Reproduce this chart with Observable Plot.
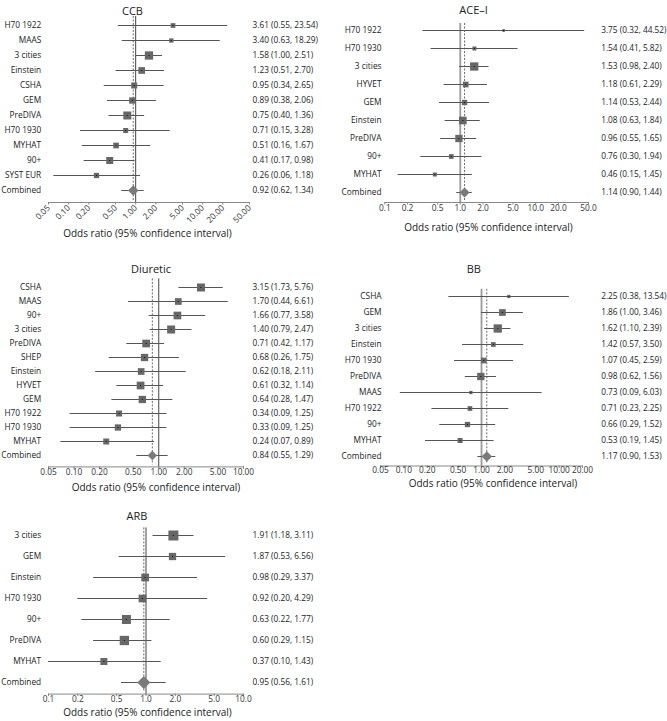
<!DOCTYPE html>
<html><head><meta charset="utf-8">
<script src="https://cdn.jsdelivr.net/npm/d3@7"></script>
<script src="https://cdn.jsdelivr.net/npm/@observablehq/plot@0.6"></script>
<style>
body{margin:0;background:#fff;}
#wrap{position:relative;width:667px;height:721px;font-family:"Open Sans",sans-serif;overflow:hidden;}
#wrap .panel{position:absolute;}
</style></head><body><div id="wrap"></div>
<script>
// ---------- data ----------
const axisLabel = "Odds ratio (95% confidence interval)";

const ccbStudies = ["H70 1922","MAAS","3 cities","Einstein","CSHA","GEM","PreDIVA","H70 1930","MYHAT","90+","SYST EUR","Combined"];
const ccbOR = [3.61,3.40,1.58,1.23,0.95,0.89,0.75,0.71,0.51,0.41,0.26,0.92];
const ccbLo = [0.55,0.63,1.00,0.51,0.34,0.38,0.40,0.15,0.16,0.17,0.06,0.62];
const ccbHi = [23.54,18.29,2.51,2.70,2.65,2.06,1.36,3.28,1.67,0.98,1.18,1.34];
const ccbWeight = [6,5,18.6,12.1,9.7,10.7,17.3,6.8,8.8,13.2,7.6,null];
const ccbTicks = [0.05,0.1,0.2,0.5,1,2,5,10,20,50];

const aceStudies = ["H70 1922","H70 1930","3 cities","HYVET","GEM","Einstein","PreDIVA","90+","MYHAT","Combined"];
const aceOR = [3.75,1.54,1.53,1.18,1.14,1.08,0.96,0.76,0.46,1.14];
const aceLo = [0.32,0.41,0.98,0.61,0.53,0.63,0.55,0.30,0.15,0.90];
const aceHi = [44.52,5.82,2.40,2.29,2.44,1.84,1.65,1.94,1.45,1.44];
const aceWeight = [2,4.3,18.6,8.8,7.6,16,14.4,6,4.3,null];
const aceTicks = [0.1,0.2,0.5,1,2,5,10,20,50];

const diuStudies = ["CSHA","MAAS","90+","3 cities","PreDIVA","SHEP","Einstein","HYVET","GEM","H70 1922","H70 1930","MYHAT","Combined"];
const diuOR = [3.15,1.70,1.66,1.40,0.71,0.68,0.62,0.61,0.64,0.34,0.33,0.24,0.84];
const diuLo = [1.73,0.44,0.77,0.79,0.42,0.26,0.18,0.32,0.28,0.09,0.09,0.07,0.55];
const diuHi = [5.76,6.61,3.58,2.47,1.17,1.75,2.11,1.14,1.47,1.25,1.25,0.89,1.29];
const diuWeight = [17.3,12.1,16,17.3,16,14.4,12.1,16,14.4,9.7,10.7,9.7,null];
const diuTicks = [0.05,0.1,0.2,0.5,1,2,5,10];

const bbStudies = ["CSHA","GEM","3 cities","Einstein","H70 1930","PreDIVA","MAAS","H70 1922","90+","MYHAT","Combined"];
const bbOR = [2.25,1.86,1.62,1.42,1.07,0.98,0.73,0.71,0.66,0.53,1.17];
const bbLo = [0.38,1.00,1.10,0.57,0.45,0.62,0.09,0.23,0.29,0.19,0.90];
const bbHi = [13.54,3.46,2.39,3.50,2.59,1.56,6.03,2.25,1.52,1.45,1.53];
const bbWeight = [2.9,12.1,18.6,6,8.8,14.4,2.9,6,7.6,6.8,null];
const bbTicks = [0.05,0.1,0.2,0.5,1,2,5,10,20];

const arbStudies = ["3 cities","GEM","Einstein","H70 1930","90+","PreDIVA","MYHAT","Combined"];
const arbOR = [1.91,1.87,0.98,0.92,0.63,0.60,0.37,0.95];
const arbLo = [1.18,0.53,0.29,0.20,0.22,0.29,0.10,0.56];
const arbHi = [3.11,6.56,3.37,4.29,1.77,1.15,1.43,1.61];
const arbWeight = [27,14.4,16,16,21.9,23.4,13.2,null];
const arbTicks = [0.1,0.2,0.5,1,2,5,10];

// ---------- drawing ----------
function rows(studies, or, lo, hi, w) {
  return studies.map((s, i) => ({study: s, or: or[i], lo: lo[i], hi: hi[i], w: w[i], combined: s === "Combined"}));
}
const f2 = d3.format(".2f");

function forest(p) {
  const data = rows(p.studies, p.or, p.lo, p.hi, p.w);
  const comb = data.filter(d => d.combined);
  const studs = data.filter(d => !d.combined);
  const tf = d3.format(p.fmt);
  const rot = p.rotate || 0;
  const plot = Plot.plot({
    width: p.width, height: p.height,
    marginLeft: p.ml, marginRight: p.mr, marginTop: p.mt, marginBottom: p.mb,
    style: {fontFamily: "'Open Sans', sans-serif", fontSize: "8.3px", color: "#333", background: "none", overflow: "visible"},
    x: {type: "log", domain: p.domain, axis: null},
    y: {type: "point", domain: data.map(d => d.study), padding: 0.5, axis: null},
    r: {type: "sqrt", domain: [0, 100], range: [0, 10.86]},
    marks: [
      Plot.frame({anchor: "bottom", stroke: "#888"}),
      Plot.axisX({ticks: p.ticks, tickSize: 2.5, fill: "none", stroke: "#888", label: null}),
      Plot.text(p.ticks, {x: d => d, text: d => tf(d), frameAnchor: "bottom",
        dy: rot ? 6 : (p.tickDy || 8), dx: rot ? 2 : 0, rotate: rot, textAnchor: rot ? "end" : "middle", fill: "#333"}),
      Plot.ruleX([1], {stroke: p.refStroke || "#444", strokeWidth: p.refWidth || 1, insetTop: 3}),
      Plot.ruleX(comb, {x: "or", stroke: "#444", strokeDasharray: "2,1.5", strokeWidth: 0.8, insetTop: 3, insetBottom: 2}),
      Plot.ruleY(data, {y: "study", x1: "lo", x2: "hi", stroke: "#555", strokeWidth: 1}),
      Plot.dot(studs, {x: "or", y: "study", r: "w", symbol: "square", fill: "#676767"}),
      Plot.dot(comb, {x: "or", y: "study", r: p.diamond / 2.507, symbol: "square", rotate: 45, fill: "#7a7a7a"}),
      Plot.dot(studs, {x: "or", y: "study", r: 0.6, symbol: "square", fill: "#111"}),
      Plot.text(data, {y: "study", text: "study", frameAnchor: "left", textAnchor: "end", dx: p.labelDx, fill: "#222"}),
      Plot.text(data, {y: "study", text: d => `${f2(d.or)} (${f2(d.lo)}, ${f2(d.hi)})`, frameAnchor: "right", textAnchor: "start", dx: p.estDx, fill: "#222"}),
      Plot.text([p.title], {text: d => d, frameAnchor: "top", dy: p.titleDy, dx: p.titleDx, fontSize: 11, fill: "#222"}),
      Plot.text([axisLabel], {text: d => d, frameAnchor: "bottom", dy: p.axDy, dx: p.axDx, fontSize: 10, fill: "#222"})
    ]
  });
  plot.classList.add("panel");
  plot.style.left = p.left + "px";
  plot.style.top = p.top + "px";
  document.getElementById("wrap").appendChild(plot);
}

forest({title: "CCB", studies: ccbStudies, or: ccbOR, lo: ccbLo, hi: ccbHi, w: ccbWeight,
  ticks: ccbTicks, fmt: ".2f", domain: [0.05, 50], rotate: -45,
  left: 0, top: 0, width: 330, height: 240, ml: 48, mr: 81, mt: 13, mb: 38,
  labelDx: -7.3, estDx: 3, titleDy: -6, titleDx: -16.5, axDy: 34, axDx: -1.5, diamond: 10.5});

forest({title: "ACE\u2013I", studies: aceStudies, or: aceOR, lo: aceLo, hi: aceHi, w: aceWeight,
  ticks: aceTicks, fmt: ".1f", domain: [0.1, 50], refStroke: "#9a9a9a", refWidth: 1.8,
  left: 330, top: 0, width: 337, height: 240, ml: 54.3, mr: 79, mt: 20, mb: 38,
  labelDx: -3.3, estDx: 12.7, titleDy: -14, titleDx: -13, axDy: 28, axDx: 1.8, diamond: 10});

forest({title: "Diuretic", studies: diuStudies, or: diuOR, lo: diuLo, hi: diuHi, w: diuWeight,
  ticks: diuTicks, fmt: ".2f", domain: [0.05, 10],
  left: 0, top: 240, width: 330, height: 260, ml: 48, mr: 87, mt: 35.4, mb: 33.6,
  labelDx: -7.3, estDx: 9, titleDy: -10.4, titleDx: 5, axDy: 24.3, axDx: 10, diamond: 9.5});

forest({title: "BB", studies: bbStudies, or: bbOR, lo: bbLo, hi: bbHi, w: bbWeight,
  ticks: bbTicks, fmt: ".2f", domain: [0.05, 20], refStroke: "#9a9a9a", refWidth: 1.8, tickDy: 7,
  left: 330, top: 240, width: 337, height: 260, ml: 50, mr: 85, mt: 45.8, mb: 34.5,
  labelDx: 1, estDx: 18.7, titleDy: -20.8, titleDx: -7.7, axDy: 20.5, axDx: 11.5, diamond: 10.5});

forest({title: "ARB", studies: arbStudies, or: arbOR, lo: arbLo, hi: arbHi, w: arbWeight,
  ticks: arbTicks, fmt: ".1f", domain: [0.1, 10],
  left: 0, top: 490, width: 330, height: 231, ml: 48, mr: 87, mt: 34.4, mb: 27.4,
  labelDx: -7.3, estDx: 9, titleDy: -12.7, titleDx: -9, axDy: 21.4, axDx: 1.5, diamond: 13});
</script>
</body></html>
